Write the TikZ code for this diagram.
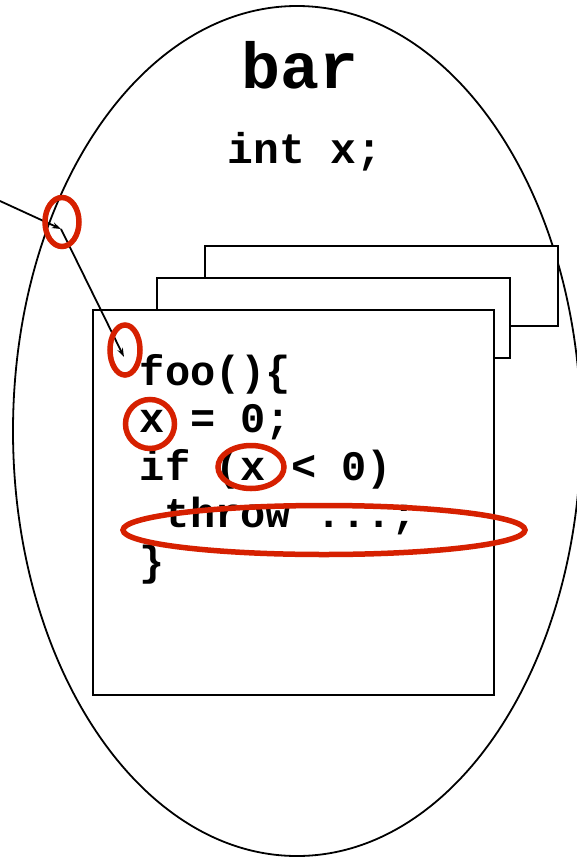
\documentclass[tikz,border=0pt]{standalone}
\usepackage{fontspec}
\setmonofont{Liberation Mono}
\usetikzlibrary{shapes.geometric, arrows.meta}

\definecolor{ringred}{RGB}{214,32,0}

\begin{document}
\begin{tikzpicture}[x=1pt, y=-1pt, >={Stealth[length=9pt, width=6pt]}, line width=1.8pt,
    codeline/.style={anchor=base west, inner sep=0pt, font=\ttfamily\bfseries\fontsize{42}{47.5}\selectfont},
    frame/.style={draw, fill=white},
    ring/.style={draw=ringred, line width=5.5pt, ellipse, inner sep=0pt}]

    \useasboundingbox (0,0) rectangle (577,857);
    \clip (0,0) rectangle (577,857);

    % --- Coordinates ---
    \coordinate (caller) at (0,201);
    \coordinate (entry) at (61,229);
    \coordinate (fooentry) at (124,357);

    % --- Scope of bar ---
    \draw (297,431) ellipse [x radius=284pt, y radius=425pt];
    \node[inner sep=0pt, font=\ttfamily\bfseries\fontsize{65}{65}\selectfont, anchor=base] (title) at (300,88) {bar};
    \node[inner sep=0pt, font=\ttfamily\bfseries\fontsize{43}{43}\selectfont, anchor=base] (decl) at (305,163) {int x;};

    % --- Stacked frames of foo ---
    \draw[frame] (205,246) rectangle (558,326);
    \draw[frame] (157,278) rectangle (510,358);
    \draw[frame] (93,310) rectangle (494,695);

    % --- Calls ---
    \draw[->] (caller) -- (entry);
    \draw[->] (entry) -- (fooentry);

    % --- Body of foo ---
    \node[codeline] (line1) at (139,385) {foo()\{};
    \node[codeline] (line2) at (139,432) {x = 0;};
    \node[codeline] (line3) at (139,480) {if (x < 0)};
    \node[codeline] (line4) at (164,527) {throw ...;};
    \node[codeline] (line5) at (139,575) {\}};

    % --- Highlights ---
    \node[ring, minimum width=34pt, minimum height=49pt] (ringentry) at (62,222) {};
    \node[ring, minimum width=30pt, minimum height=50pt] (ringfoo) at (125,350) {};
    \node[ring, minimum width=49pt, minimum height=49pt] (ringassign) at (150,424) {};
    \node[ring, minimum width=66pt, minimum height=43pt] (ringtest) at (251,467) {};
    \node[ring, minimum width=402pt, minimum height=49pt] (ringthrow) at (324,530) {};

\end{tikzpicture}
\end{document}
